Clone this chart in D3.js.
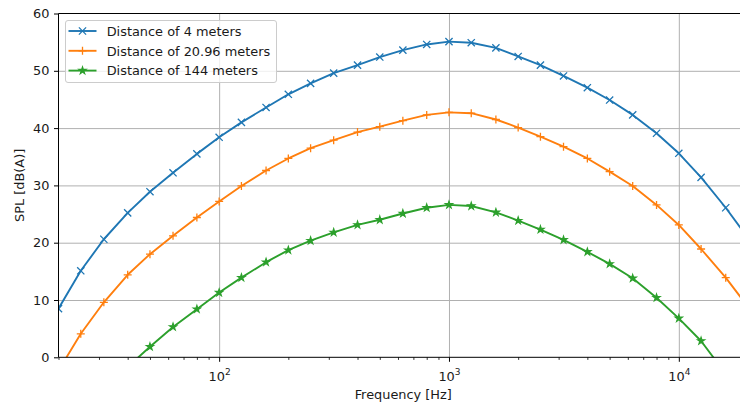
<!DOCTYPE html>
<html>
<head>
<meta charset="utf-8">
<script src="https://cdn.jsdelivr.net/npm/d3@7"></script>
<style>
  body { margin: 0; background: #fff; }
  svg { display: block; }
  text { font-family: "DejaVu Sans", sans-serif; }
</style>
</head>
<body>
<svg id="chart" width="740" height="403"></svg>
<script>
// One-third-octave band centre frequencies (Hz)
const frequencies = [20, 25, 31.5, 40, 50, 63, 80, 100, 125, 160, 200, 250, 315, 400, 500,
  630, 800, 1000, 1250, 1600, 2000, 2500, 3150, 4000, 5000, 6300, 8000, 10000, 12500, 16000, 20000];

// A-weighted sound pressure level per band, dB(A)
const splAt4m = [8.5, 15.1, 20.6, 25.2, 28.9, 32.2, 35.5, 38.4, 41.0, 43.6, 45.9, 47.8, 49.6, 51.0, 52.4,
  53.6, 54.6, 55.1, 54.9, 54.0, 52.5, 51.0, 49.1, 47.05, 44.9, 42.3, 39.1, 35.6, 31.4, 26.1, 20.8];
const splAt2096m = [-2.3, 4.1, 9.6, 14.4, 18.0, 21.2, 24.4, 27.2, 29.9, 32.6, 34.7, 36.5, 37.9, 39.3, 40.25,
  41.3, 42.3, 42.75, 42.6, 41.5, 40.1, 38.5, 36.75, 34.7, 32.4, 29.9, 26.6, 23.1, 18.9, 13.9, 8.8];
const splAt144m = [-18.3, -11.8, -6.3, -1.7, 1.85, 5.3, 8.4, 11.3, 13.9, 16.6, 18.7, 20.35, 21.8, 23.1, 24.0,
  25.1, 26.1, 26.6, 26.4, 25.3, 23.85, 22.3, 20.5, 18.4, 16.3, 13.8, 10.4, 6.8, 2.85, -2.9, -9.5];

const seriesLabels = ["Distance of 4 meters", "Distance of 20.96 meters", "Distance of 144 meters"];
const seriesValues = [splAt4m, splAt2096m, splAt144m];

// Axis ticks
const yTicks = [0, 10, 20, 30, 40, 50, 60];
const xMajorTicks = [100, 1000, 10000];
const xMajorExponents = ["2", "3", "4"];
const xMinorTicks = [20, 30, 40, 50, 60, 70, 80, 90, 200, 300, 400, 500, 600, 700, 800, 900,
  2000, 3000, 4000, 5000, 6000, 7000, 8000, 9000, 20000];

const colors = ["#1f77b4", "#ff7f0e", "#2ca02c"];
const markers = ["x", "plus", "star"];

const svg = d3.select("#chart");
const plot = { left: 58.5, right: 748, top: 13.5, bottom: 357.3 };
const fontSize = 12.9;
const textColor = "#1a1a1a";

const x = d3.scaleLog().domain([20, 20000]).range([plot.left, plot.right]);
const y = d3.scaleLinear().domain([0, 60]).range([plot.bottom, plot.top]);

// Clip region for the plotting area
svg.append("defs").append("clipPath").attr("id", "plot-clip")
  .append("rect")
  .attr("x", plot.left).attr("y", plot.top)
  .attr("width", plot.right - plot.left).attr("height", plot.bottom - plot.top);

// Grid lines
const gridX = svg.append("g")
  .attr("transform", `translate(0,${plot.bottom})`)
  .call(d3.axisBottom(x).tickValues(xMajorTicks).tickFormat("").tickSize(-(plot.bottom - plot.top)));
const gridY = svg.append("g")
  .attr("transform", `translate(${plot.left},0)`)
  .call(d3.axisLeft(y).tickValues(yTicks.slice(1, -1)).tickFormat("").tickSize(-(plot.right - plot.left)));
[gridX, gridY].forEach(g => {
  g.select(".domain").remove();
  g.selectAll("line").attr("stroke", "#b0b0b0").attr("stroke-width", 1);
});

// Marker shapes
function markerPath(kind) {
  const r = 3.6;
  if (kind === "x") return `M${-r},${-r}L${r},${r}M${-r},${r}L${r},${-r}`;
  if (kind === "plus") return `M${-r - 0.4},0L${r + 0.4},0M0,${-r - 0.4}L0,${r + 0.4}`;
  const outer = 3.9, inner = outer * 0.382;
  const pts = [];
  for (let i = 0; i < 10; i++) {
    const rad = i % 2 === 0 ? outer : inner;
    const a = -Math.PI / 2 + i * Math.PI / 5;
    pts.push([rad * Math.cos(a), rad * Math.sin(a)]);
  }
  return "M" + pts.map(p => p[0].toFixed(2) + "," + p[1].toFixed(2)).join("L") + "Z";
}

function drawMarker(g, kind, color) {
  const p = g.append("path").attr("d", markerPath(kind)).attr("stroke", color);
  if (kind === "star") p.attr("fill", color).attr("stroke-width", 1.1).attr("stroke-linejoin", "miter");
  else p.attr("fill", "none").attr("stroke-width", 1.3);
}

// Series lines and markers
const plotArea = svg.append("g").attr("clip-path", "url(#plot-clip)");
const line = d3.line().x(d => x(d[0])).y(d => y(d[1]));

seriesValues.forEach((vals, i) => {
  const pts = frequencies.map((f, j) => [f, vals[j]]);
  const g = plotArea.append("g");
  g.append("path").datum(pts)
    .attr("d", line)
    .attr("fill", "none")
    .attr("stroke", colors[i])
    .attr("stroke-width", 1.9)
    .attr("stroke-linejoin", "round")
    .attr("stroke-linecap", "square");
  pts.forEach(p => {
    const mg = g.append("g").attr("transform", `translate(${x(p[0])},${y(p[1])})`);
    drawMarker(mg, markers[i], colors[i]);
  });
});

// Spines
const spines = svg.append("g").attr("stroke", "#000").attr("stroke-width", 1).attr("fill", "none");
spines.append("line").attr("x1", plot.left).attr("x2", plot.left).attr("y1", plot.top).attr("y2", plot.bottom);
spines.append("line").attr("x1", plot.left).attr("x2", plot.right).attr("y1", plot.bottom).attr("y2", plot.bottom);
spines.append("line").attr("x1", plot.left).attr("x2", plot.right).attr("y1", plot.top).attr("y2", plot.top);
spines.append("line").attr("x1", plot.right).attr("x2", plot.right).attr("y1", plot.top).attr("y2", plot.bottom);

// Y axis
const yAxis = svg.append("g")
  .attr("transform", `translate(${plot.left},0)`)
  .call(d3.axisLeft(y).tickValues(yTicks).tickFormat(d3.format("d")).tickSize(4.5).tickPadding(4.5));
yAxis.select(".domain").remove();
yAxis.selectAll("line").attr("stroke", "#000").attr("stroke-width", 1);
yAxis.selectAll("text").attr("font-size", fontSize).attr("fill", textColor)
  .attr("font-family", "DejaVu Sans");

// X axis: minor ticks
const xMinor = svg.append("g")
  .attr("transform", `translate(0,${plot.bottom})`)
  .call(d3.axisBottom(x).tickValues(xMinorTicks).tickFormat("").tickSize(2.6));
xMinor.select(".domain").remove();
xMinor.selectAll("line").attr("stroke", "#000").attr("stroke-width", 0.8);

// X axis: major ticks with power-of-ten labels
const xAxis = svg.append("g")
  .attr("transform", `translate(0,${plot.bottom})`)
  .call(d3.axisBottom(x).tickValues(xMajorTicks).tickFormat("").tickSize(4.5));
xAxis.select(".domain").remove();
xAxis.selectAll("line").attr("stroke", "#000").attr("stroke-width", 1);
xAxis.selectAll(".tick text").each(function (d, i) {
  const t = d3.select(this)
    .attr("y", 23.7).attr("dy", null)
    .attr("font-size", fontSize).attr("fill", textColor)
    .attr("font-family", "DejaVu Sans")
    .attr("text-anchor", "middle");
  t.append("tspan").text("10");
  t.append("tspan").attr("dy", -5.8).attr("font-size", 9).text(xMajorExponents[i]);
});

// Axis titles
svg.append("text")
  .attr("x", (plot.left + plot.right) / 2).attr("y", 398.5)
  .attr("text-anchor", "middle").attr("font-size", fontSize).attr("fill", textColor)
  .text("Frequency [Hz]");
svg.append("text")
  .attr("transform", `translate(24,${(plot.top + plot.bottom) / 2}) rotate(-90)`)
  .attr("text-anchor", "middle").attr("font-size", fontSize).attr("fill", textColor)
  .text("SPL [dB(A)]");

// Legend
const legend = svg.append("g");
legend.append("rect")
  .attr("x", 65.5).attr("y", 20.5).attr("width", 211).attr("height", 62)
  .attr("rx", 2.5).attr("ry", 2.5)
  .attr("fill", "#fff").attr("fill-opacity", 0.8)
  .attr("stroke", "#cccccc").attr("stroke-width", 1);
seriesLabels.forEach((label, i) => {
  const cy = 31 + i * 19.8;
  legend.append("line")
    .attr("x1", 68.5).attr("x2", 96.5).attr("y1", cy).attr("y2", cy)
    .attr("stroke", colors[i]).attr("stroke-width", 1.9);
  const mg = legend.append("g").attr("transform", `translate(82.5,${cy})`);
  drawMarker(mg, markers[i], colors[i]);
  legend.append("text")
    .attr("x", 106.7).attr("y", cy + 4.7)
    .attr("font-size", fontSize).attr("fill", textColor)
    .text(label);
});
</script>
</body>
</html>
